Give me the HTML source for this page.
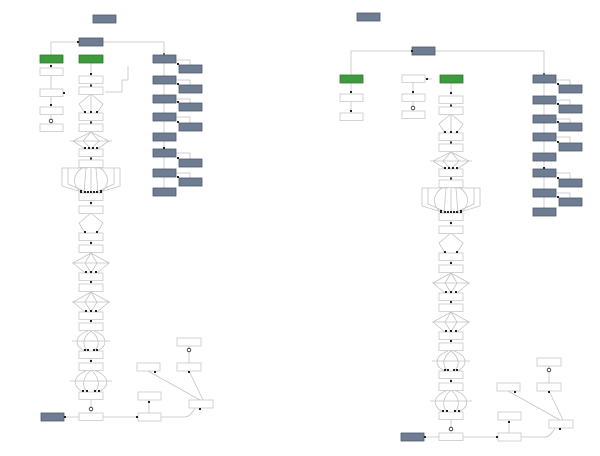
<!DOCTYPE html>
<html><head><meta charset="utf-8"><style>
html,body{margin:0;padding:0;background:#fff;width:600px;height:456px;overflow:hidden}
svg{display:block}
.w{fill:#fff;stroke:#c8c8c8;stroke-width:0.8}
.s{fill:#6f7d92;stroke:#4e5a6c;stroke-width:0.8}
.g{fill:#3d9a3d;stroke:#2e7a2e;stroke-width:0.8}
.l{fill:none;stroke:#c4c4c4;stroke-width:0.8}
.d{fill:#222}
text{font-family:"Liberation Sans",sans-serif;font-size:2px;fill:#888}
</style></head><body>
<svg width="600" height="456" viewBox="0 0 600 456" xmlns="http://www.w3.org/2000/svg">
<defs>
<g id="spine">
 <!-- connectors -->
 <path class="l" d="M91 83V87 M91 120V124 M91 157V160 M91 200V206 M91 241V245 M91 280V284 M91 319V323 M91 359V363 M91 399V413"/>
 <path class="l" d="M91 94L79 104L85 113 M91 94V113 M91 94L103 104L97 113"/>
 <path class="l" d="M91 132L73 141L85 149 M91 132L83 141L91 149 M91 132L99 141L91 149 M91 132L109 141L97 149 M70 141H112"/>
 <path class="l" d="M85 168H62V186L85 193 M88 168H68V184L88 193 M91 168V193 M94 168H114V184L94 193 M97 168H120V186L97 193 M82 168C72 175 72 186 82 193 M100 168C110 175 110 186 100 193 M86 168L84 193 M96 168L98 193"/>
 <path class="l" d="M91 213L79 223L85 233 M91 213L103 223L97 233"/>
 <path class="l" d="M91 253L73 263L85 273 M91 253L85 263L91 273 M91 253L97 263L91 273 M91 253L109 263L97 273 M72 263H110"/>
 <path class="l" d="M91 292L73 302L85 312 M91 292L85 302L91 312 M91 292L97 302L91 312 M91 292L109 302L97 312 M72 302H110"/>
 <path class="l" d="M88 331C74 336 74 346 85 351 M91 331C82 338 82 346 88 351 M91 331C100 338 100 346 94 351 M94 331C108 336 108 346 97 351 M72 341H110"/>
 <path class="l" d="M88 370C72 376 72 386 83 392 M91 370C82 378 82 386 87 392 M91 370C100 378 100 386 95 392 M94 370C110 376 110 386 99 392 M70 381H112"/>
 <circle cx="91" cy="409" r="1.8" fill="#fff" stroke="#222" stroke-width="0.8"/>
 <!-- boxes -->
 <rect class="w" x="79" y="76" width="24" height="7.5"/><rect class="w" x="79" y="87" width="24" height="7.5"/>
 <rect class="w" x="79" y="113" width="24" height="7.5"/><rect class="w" x="79" y="124" width="24" height="7.5"/>
 <rect class="w" x="79" y="149" width="24" height="7.5"/><rect class="w" x="79" y="160" width="24" height="7.5"/>
 <rect class="w" x="79" y="193" width="24" height="7.5"/><rect class="w" x="79" y="206" width="24" height="7.5"/>
 <rect class="w" x="79" y="233" width="24" height="7.5"/><rect class="w" x="79" y="245" width="24" height="7.5"/>
 <rect class="w" x="79" y="273" width="24" height="7.5"/><rect class="w" x="79" y="284" width="24" height="7.5"/>
 <rect class="w" x="79" y="312" width="24" height="7.5"/><rect class="w" x="79" y="323" width="24" height="7.5"/>
 <rect class="w" x="79" y="351" width="24" height="7.5"/><rect class="w" x="79" y="363" width="24" height="7.5"/>
 <rect class="w" x="79" y="392" width="24" height="7.5"/><rect class="w" x="79" y="413" width="24" height="7.5"/>
 <!-- dots -->
 <g class="d">
 <rect x="90" y="84.5" width="2" height="2"/><rect x="84" y="111" width="2" height="2"/><rect x="90" y="111" width="2" height="2"/><rect x="96" y="111" width="2" height="2"/>
 <rect x="90" y="121.5" width="2" height="2"/><rect x="84" y="147" width="2" height="2"/><rect x="88" y="147" width="2" height="2"/><rect x="92" y="147" width="2" height="2"/><rect x="96" y="147" width="2" height="2"/>
 <rect x="90" y="157.5" width="2" height="2"/>
 <rect x="80" y="190" width="2" height="3"/><rect x="84" y="191" width="2" height="2"/><rect x="87" y="191" width="2" height="2"/><rect x="90" y="191" width="2" height="2"/><rect x="93" y="191" width="2" height="2"/><rect x="96" y="191" width="2" height="2"/><rect x="100" y="190" width="2" height="3"/>
 <rect x="90" y="202" width="2" height="2"/><rect x="84" y="231" width="2" height="2"/><rect x="96" y="231" width="2" height="2"/>
 <rect x="90" y="242" width="2" height="2"/><rect x="85" y="271" width="2" height="2"/><rect x="90" y="271" width="2" height="2"/><rect x="95" y="271" width="2" height="2"/>
 <rect x="90" y="281" width="2" height="2"/><rect x="85" y="310" width="2" height="2"/><rect x="90" y="310" width="2" height="2"/><rect x="95" y="310" width="2" height="2"/>
 <rect x="90" y="320" width="2" height="2"/><rect x="84" y="349" width="2" height="2"/><rect x="87" y="349" width="2" height="2"/><rect x="93" y="349" width="2" height="2"/><rect x="96" y="349" width="2" height="2"/>
 <rect x="90" y="360" width="2" height="2"/><rect x="82" y="390" width="2" height="2"/><rect x="86" y="390" width="2" height="2"/><rect x="94" y="390" width="2" height="2"/><rect x="98" y="390" width="2" height="2"/>
 </g>
 <!-- bottom cluster -->
 <path class="l" d="M64 417H79 M103 417H138 M161 417H185Q190 417 195 408 M149 400V413 M148 371L200 400 M189 371L203 400 M189 346V363 M56 417H52"/>
 <rect class="s" x="41" y="413" width="23" height="8"/>
 <rect class="w" x="138" y="413" width="23" height="8"/><rect class="w" x="138" y="392" width="23" height="8"/>
 <rect class="w" x="189" y="400" width="24" height="8"/><rect class="w" x="137" y="363" width="23" height="8"/>
 <rect class="w" x="177" y="363" width="24" height="8"/><rect class="w" x="177" y="338" width="24" height="8"/>
 <circle cx="189" cy="350" r="1.8" fill="#fff" stroke="#222" stroke-width="0.8"/>
 <g class="d"><rect x="64" y="416" width="2" height="2"/><rect x="136" y="416" width="2" height="2"/><rect x="148" y="401" width="2" height="2"/><rect x="199" y="408" width="2" height="2"/><rect x="154" y="371" width="2" height="2"/><rect x="188" y="371" width="2" height="2"/></g>
</g>
<g id="rcol">
 <path class="l" d="M164 63V76 M164 83V95 M164 103V113 M164 121V133 M164 140V149 M164 157V169 M164 177V188 M176 60H190V65 M176 80H190V85 M176 99H190V103 M176 117H190V123 M176 153H190V159 M176 173H190V178"/>
 <rect class="s" x="153" y="55" width="23" height="8"/><rect class="s" x="153" y="76" width="23" height="8"/>
 <rect class="s" x="153" y="95" width="23" height="8"/><rect class="s" x="153" y="113" width="23" height="8"/>
 <rect class="s" x="153" y="133" width="23" height="8"/><rect class="s" x="153" y="149" width="23" height="8"/>
 <rect class="s" x="153" y="169" width="23" height="8"/><rect class="s" x="153" y="188" width="23" height="8"/>
 <rect class="s" x="179" y="65" width="23" height="8"/><rect class="s" x="179" y="85" width="23" height="8"/>
 <rect class="s" x="179" y="103" width="23" height="8"/><rect class="s" x="179" y="123" width="23" height="8"/>
 <rect class="s" x="179" y="159" width="23" height="8"/><rect class="s" x="179" y="178" width="23" height="8"/>
 <g class="d"><rect x="163" y="53" width="2" height="2"/><rect x="177" y="63" width="2" height="2"/><rect x="177" y="83" width="2" height="2"/><rect x="177" y="101" width="2" height="2"/><rect x="177" y="121" width="2" height="2"/><rect x="163" y="147" width="2" height="2"/><rect x="177" y="157" width="2" height="2"/><rect x="177" y="176" width="2" height="2"/></g>
</g>
</defs>

<!-- LEFT DIAGRAM -->
<use href="#spine"/>
<use href="#rcol"/>
<path class="l" d="M79 42H51V55 M103 42H164V55 M91 63V76 M128 66V80H122V92H105"/>
<rect class="s" x="93" y="15" width="23" height="8"/>
<rect class="s" x="79" y="38" width="24" height="8"/>
<rect class="g" x="40" y="55" width="23" height="8"/>
<rect class="g" x="79" y="55" width="24" height="8"/>
<path class="l" d="M51 63V68 M51 75V89 M51 96V107 M51 114V124"/>
<rect class="w" x="40" y="68" width="23" height="7.5"/>
<rect class="w" x="40" y="89" width="23" height="7.5"/>
<rect class="w" x="40" y="107" width="23" height="7.5"/>
<rect class="w" x="40" y="124" width="23" height="7.5"/>
<circle cx="51" cy="121" r="1.8" fill="#fff" stroke="#222" stroke-width="0.8"/>
<g class="d"><rect x="77" y="41" width="2" height="2"/><rect x="50" y="65" width="2" height="2"/><rect x="90" y="73" width="2" height="2"/><rect x="50" y="104" width="2" height="2"/><rect x="63" y="92" width="2" height="2"/></g>

<!-- RIGHT DIAGRAM -->
<use href="#spine" transform="translate(360,20)"/>
<use href="#rcol" transform="translate(380,20)"/>
<path class="l" d="M412 51H351V75 M435 51H544V75 M451 83V95 M413 83V94 M413 101V111 M351 83V94 M351 101V113 M425 79H432"/>
<rect class="s" x="357" y="13" width="23" height="8"/>
<rect class="s" x="412" y="47" width="23" height="8"/>
<rect class="g" x="340" y="75" width="23" height="8"/>
<rect class="g" x="440" y="75" width="23" height="8"/>
<rect class="w" x="340" y="94" width="23" height="7.5"/>
<rect class="w" x="340" y="113" width="23" height="7.5"/>
<rect class="w" x="402" y="75" width="23" height="7.5"/>
<rect class="w" x="402" y="94" width="23" height="7.5"/>
<rect class="w" x="402" y="111" width="23" height="7.5"/>
<circle cx="413" cy="108" r="1.8" fill="#fff" stroke="#222" stroke-width="0.8"/>
<g class="d"><rect x="411" y="50" width="2" height="2"/><rect x="350" y="91" width="2" height="2"/><rect x="350" y="110" width="2" height="2"/><rect x="412" y="91" width="2" height="2"/><rect x="426" y="78" width="2" height="2"/><rect x="450" y="92" width="2" height="2"/></g>
</svg>
</body></html>
